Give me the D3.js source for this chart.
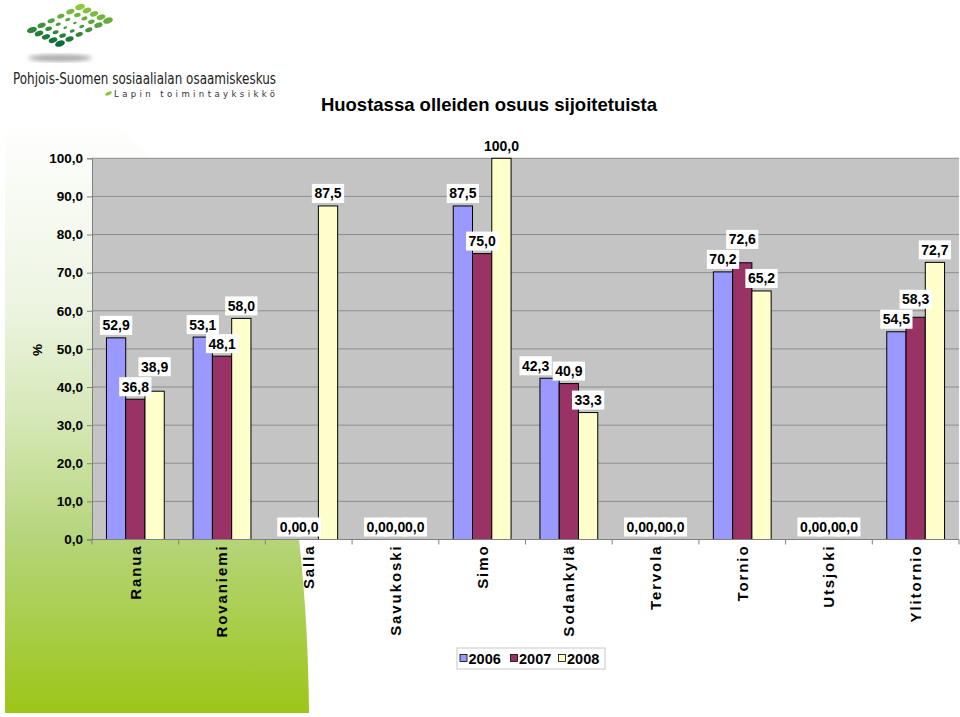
<!DOCTYPE html>
<html>
<head>
<meta charset="utf-8">
<script src="https://cdn.jsdelivr.net/npm/d3@7"></script>
<style>
  body { margin: 0; background: #fff; }
  svg { display: block; font-family: Arial, "Liberation Sans", sans-serif; }
</style>
</head>
<body>
<svg id="chart" width="960" height="717"></svg>
<script>
var categories = ["Ranua", "Rovaniemi", "Salla", "Savukoski", "Simo", "Sodankylä", "Tervola", "Tornio", "Utsjoki", "Ylitornio"];
var years = ["2006", "2007", "2008"];
var v2006 = [52.9, 53.1, 0, 0, 87.5, 42.3, 0, 70.2, 0, 54.5];
var v2007 = [36.8, 48.1, 0, 0, 75.0, 40.9, 0, 72.6, 0, 58.3];
var v2008 = [38.9, 58.0, 87.5, 0, 100.0, 33.3, 0, 65.2, 0, 72.7];
var yTicks = [0, 10, 20, 30, 40, 50, 60, 70, 80, 90, 100];
var barColours = ["#9999ff", "#993366", "#ffffcc"];

var svg = d3.select("#chart");
var fmt = function(d){ return d3.format(".1f")(d).replace(".", ","); };

var plotLeft = 92, plotRight = 959, plotTop = 158.3, plotBottom = 539.5;

// green background shape
var defs = svg.append("defs");
var grad = defs.append("linearGradient")
    .attr("id", "greenFade")
    .attr("gradientUnits", "userSpaceOnUse")
    .attr("x1", 0).attr("y1", 120).attr("x2", 0).attr("y2", 713);
grad.append("stop").attr("offset", 0).attr("stop-color", "#ffffff");
grad.append("stop").attr("offset", 0.3).attr("stop-color", "#eef5e4");
grad.append("stop").attr("offset", 0.5).attr("stop-color", "#d6e8b8");
grad.append("stop").attr("offset", 0.7).attr("stop-color", "#b6d57c");
grad.append("stop").attr("offset", 1).attr("stop-color", "#9cc618");

svg.append("path")
    .attr("d", "M5,120 L110,120 C245,230 306,420 309,713 L5,713 Z")
    .attr("fill", "url(#greenFade)");

// logo
var logo = svg.append("g");
defs.append("filter").attr("id", "soft").append("feGaussianBlur").attr("stdDeviation", 2);
logo.append("ellipse")
    .attr("cx", 60).attr("cy", 58).attr("rx", 32).attr("ry", 3.5)
    .attr("fill", "#aaaaaa").attr("filter", "url(#soft)");

var dots = [];
for (var i = 0; i < 6; i++) {
  for (var j = 0; j < 5; j++) {
    var dx = i - 2.5, dy = j - 2;
    var dist = Math.sqrt(dx * dx + dy * dy);
    dots.push({
      x: 32 + i * 9.6 + j * 7.0,
      y: 30 - i * 4.6 + j * 3.4,
      r: 1.0 + dist * 0.85,
      t: (i + (4 - j) * 0.5) / 7
    });
  }
}
var dotColour = d3.interpolateRgb("#0b6b3a", "#8dc63f");
logo.selectAll("ellipse.dot")
    .data(dots)
    .enter()
    .append("ellipse")
    .attr("class", "dot")
    .attr("cx", function(d){ return d.x; })
    .attr("cy", function(d){ return d.y; })
    .attr("rx", function(d){ return d.r * 1.35; })
    .attr("ry", function(d){ return d.r * 0.8; })
    .attr("transform", function(d){ return "rotate(-18," + d.x + "," + d.y + ")"; })
    .attr("fill", function(d){ return dotColour(d.t); });

logo.append("text")
    .attr("x", 13).attr("y", 83.5)
    .attr("textLength", 263).attr("lengthAdjust", "spacingAndGlyphs")
    .style("font-family", "'DejaVu Sans Condensed', 'DejaVu Sans', sans-serif")
    .style("font-size", "16px")
    .style("fill", "#222")
    .text("Pohjois-Suomen sosiaalialan osaamiskeskus");
logo.append("ellipse")
    .attr("cx", 108.5).attr("cy", 93.5).attr("rx", 3.5).attr("ry", 1.6)
    .attr("transform", "rotate(-25,108.5,93.5)")
    .attr("fill", "#8dc63f");
logo.append("text")
    .attr("x", 114).attr("y", 96.5)
    .attr("textLength", 161).attr("lengthAdjust", "spacing")
    .style("font-family", "'DejaVu Sans', sans-serif")
    .style("font-size", "8.5px")
    .style("fill", "#333")
    .text("Lapin toimintayksikkö");

// title
svg.append("text")
    .attr("x", 489).attr("y", 111)
    .attr("text-anchor", "middle")
    .style("font-size", "18.5px")
    .style("font-weight", "bold")
    .text("Huostassa olleiden osuus sijoitetuista");

// scales
var x = d3.scaleBand().domain(categories).range([plotLeft, plotRight]).padding(0);
var x1 = d3.scaleBand().domain(years).range([0, x.bandwidth()]).paddingInner(0).paddingOuter(0.75);
var y = d3.scaleLinear().domain([0, 100]).range([plotBottom, plotTop]);

// plot area
svg.append("rect")
    .attr("x", plotLeft).attr("y", plotTop)
    .attr("width", plotRight - plotLeft).attr("height", plotBottom - plotTop)
    .attr("fill", "#c4c4c4");

svg.append("g")
    .selectAll("line")
    .data(yTicks)
    .enter()
    .append("line")
    .attr("x1", plotLeft).attr("x2", plotRight)
    .attr("y1", function(d){ return y(d); })
    .attr("y2", function(d){ return y(d); })
    .attr("stroke", "#8e8e8e")
    .attr("stroke-width", 1);

// y axis
var yAxis = svg.append("g")
    .attr("transform", "translate(" + plotLeft + ",0)")
    .call(d3.axisLeft(y).tickValues(yTicks).tickFormat(fmt).tickSize(5).tickPadding(4));
yAxis.select(".domain").attr("stroke", "#808080");
yAxis.selectAll(".tick line").attr("stroke", "#808080");
yAxis.selectAll("text")
    .style("font-size", "13.5px")
    .style("font-weight", "bold")
    .style("font-family", "Arial, 'Liberation Sans', sans-serif")
    .attr("fill", "#000");

svg.append("text")
    .attr("transform", "translate(37,350) rotate(-90)")
    .attr("text-anchor", "middle")
    .attr("dy", "0.35em")
    .style("font-size", "13.5px")
    .style("font-weight", "bold")
    .text("%");

// bars
var series = [v2006, v2007, v2008];
var barData = [];
categories.forEach(function(c, ci){
  years.forEach(function(yr, si){
    barData.push({ cat: c, year: yr, s: si, value: series[si][ci] });
  });
});

svg.append("g")
    .selectAll("rect")
    .data(barData)
    .enter()
    .append("rect")
    .attr("x", function(d){ return x(d.cat) + x1(d.year); })
    .attr("y", function(d){ return y(d.value); })
    .attr("width", x1.bandwidth())
    .attr("height", function(d){ return y(0) - y(d.value); })
    .attr("fill", function(d){ return barColours[d.s]; })
    .attr("stroke", "#000")
    .attr("stroke-width", 1);

// x axis
svg.append("line")
    .attr("x1", plotLeft).attr("x2", plotRight)
    .attr("y1", plotBottom).attr("y2", plotBottom)
    .attr("stroke", "#808080");
var edges = categories.map(function(c){ return x(c); }).concat([plotRight]);
svg.append("g")
    .selectAll("line")
    .data(edges)
    .enter()
    .append("line")
    .attr("x1", function(d){ return d; }).attr("x2", function(d){ return d; })
    .attr("y1", plotBottom).attr("y2", plotBottom + 5)
    .attr("stroke", "#808080");

svg.append("g")
    .selectAll("text")
    .data(categories)
    .enter()
    .append("text")
    .attr("transform", function(d){ return "translate(" + (x(d) + x.bandwidth() / 2) + "," + (plotBottom + 5) + ") rotate(-90)"; })
    .attr("text-anchor", "end")
    .attr("dy", "0.36em")
    .style("font-size", "15px")
    .style("font-weight", "bold")
    .style("letter-spacing", "1.9px")
    .text(function(d){ return d; });

// data labels
var labelLayer = svg.append("g");
var boxLayer = labelLayer.append("g");
var textLayer = labelLayer.append("g");
var boxH = 19, gap = 3;

var labels = barData.map(function(d){
  var t = textLayer.append("text")
      .attr("text-anchor", "middle")
      .style("font-size", "14px")
      .style("font-weight", "bold")
      .text(fmt(d.value));
  var w = t.node().getComputedTextLength() + 5;
  var cx = x(d.cat) + x1(d.year) + x1.bandwidth() / 2;
  var b = y(d.value) - gap;
  return { d: d, t: t, w: w, cx: cx, top: b - boxH, bottom: b };
});

// keep labels of one group apart (zero labels are left overlapping)
categories.forEach(function(c){
  var grp = labels.filter(function(l){ return l.d.cat === c && l.d.value > 0; });
  for (var k = 1; k < grp.length; k++) {
    for (var m = 0; m < k; m++) {
      var a = grp[m], b = grp[k];
      var hOver = Math.min(a.cx + a.w / 2, b.cx + b.w / 2) - Math.max(a.cx - a.w / 2, b.cx - b.w / 2);
      var vOver = Math.min(a.bottom, b.bottom) - Math.max(a.top, b.top);
      if (hOver > 0 && vOver > 0) {
        if (b.top > a.top) {
          a.cx -= hOver + 1;
        } else {
          b.top -= vOver + 1;
          b.bottom -= vOver + 1;
        }
      }
    }
  }
});

labels.forEach(function(l){
  boxLayer.append("rect")
      .attr("x", l.cx - l.w / 2).attr("y", l.top)
      .attr("width", l.w).attr("height", boxH)
      .attr("fill", "#fff");
  l.t.attr("x", l.cx).attr("y", l.top + boxH / 2).attr("dy", "0.36em");
});

// legend
var legend = svg.append("g");
legend.append("rect")
    .attr("x", 457).attr("y", 648)
    .attr("width", 148).attr("height", 21)
    .attr("fill", "#fff")
    .attr("stroke", "#c8c8c8");
var legendX = d3.scaleOrdinal().domain(years).range([460, 510.5, 558.5]);
legend.selectAll("rect.sw")
    .data(years)
    .enter()
    .append("rect")
    .attr("class", "sw")
    .attr("x", function(d){ return legendX(d); })
    .attr("y", 654.5)
    .attr("width", 7).attr("height", 7)
    .attr("fill", function(d, i){ return barColours[i]; })
    .attr("stroke", "#000")
    .attr("stroke-width", 0.8);
legend.selectAll("text")
    .data(years)
    .enter()
    .append("text")
    .attr("x", function(d){ return legendX(d) + 8.5; })
    .attr("y", 658.5)
    .attr("dy", "0.36em")
    .style("font-size", "14.5px")
    .style("font-weight", "bold")
    .text(function(d){ return d; });
</script>
</body>
</html>
